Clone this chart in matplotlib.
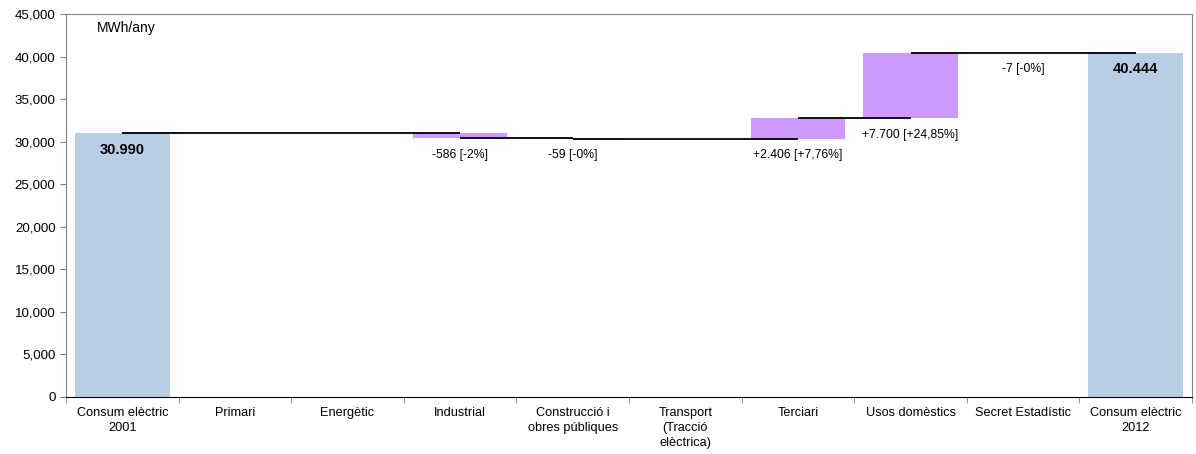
import numpy as np
import matplotlib.pyplot as plt
from matplotlib.ticker import FuncFormatter

plt.rcParams['font.family'] = ['Liberation Sans', 'DejaVu Sans']

# Data
categories = ['Consum elèctric\n2001', 'Primari', 'Energètic', 'Industrial',
              'Construcció i\nobres públiques', 'Transport\n(Tracció\nelèctrica)',
              'Terciari', 'Usos domèstics', 'Secret Estadístic', 'Consum elèctric\n2012']
start_total = 30990
changes = [0, 0, -586, -59, 0, 2406, 7700, -7]
change_labels = ['', '', '-586 [-2%]', '-59 [-0%]', '', '+2.406 [+7,76%]',
                 '+7.700 [+24,85%]', '-7 [-0%]']
end_total = 40444
total_labels = ['30.990', '40.444']

blue = '#b9cde5'
lilac = '#cc99ff'

fig, ax = plt.subplots(figsize=(11.96, 4.54), dpi=100)
fig.subplots_adjust(left=0.0552, right=0.9967, top=0.969, bottom=0.1256)

n = len(categories)
x = np.arange(n)
w = 0.84

# running totals
totals = [start_total]
for c in changes:
    totals.append(totals[-1] + c)
totals.append(end_total)

# total bars
ax.bar(0, start_total, width=w, color=blue, zorder=2)
ax.bar(n - 1, end_total, width=w, color=blue, zorder=2)
ax.text(0, start_total - 1950, total_labels[0], ha='center', va='center',
        fontsize=10.5, fontweight='bold')
ax.text(n - 1, end_total - 1950, total_labels[1], ha='center', va='center',
        fontsize=10.5, fontweight='bold')

# change bars
for i, c in enumerate(changes):
    xi = i + 1
    prev = totals[i]
    if c != 0:
        ax.bar(xi, c, bottom=prev, width=w, color=lilac, zorder=2)
    if change_labels[i]:
        low = min(prev, prev + c)
        ax.text(xi, low - 1950, change_labels[i], ha='center', va='center', fontsize=8.8)

# connector lines
for i in range(n - 1):
    ax.plot([x[i], x[i + 1]], [totals[i], totals[i]], color='black', lw=1.3, zorder=3,
            solid_capstyle='butt')

ax.text(0.027, 0.982, 'MWh/any', transform=ax.transAxes, ha='left', va='top', fontsize=10)

ax.set_xlim(-0.5, n - 0.5)
ax.set_ylim(0, 45000)
ax.set_yticks(np.arange(0, 45001, 5000))
ax.yaxis.set_major_formatter(FuncFormatter(lambda v, p: f'{int(v):,}'))
ax.tick_params(axis='y', labelsize=9.6, length=4, color='#808080')

ax.set_xticks(x)
ax.set_xticklabels(categories, fontsize=9.2, linespacing=1.35)
ax.tick_params(axis='x', length=0, pad=7)
ax.set_xticks(np.arange(-0.5, n, 1), minor=True)
ax.tick_params(axis='x', which='minor', length=4, color='#808080')

for s in ['left', 'top', 'right']:
    ax.spines[s].set_color('#808080')
ax.spines['bottom'].set_color('black')

plt.savefig('out.png', dpi=100)
